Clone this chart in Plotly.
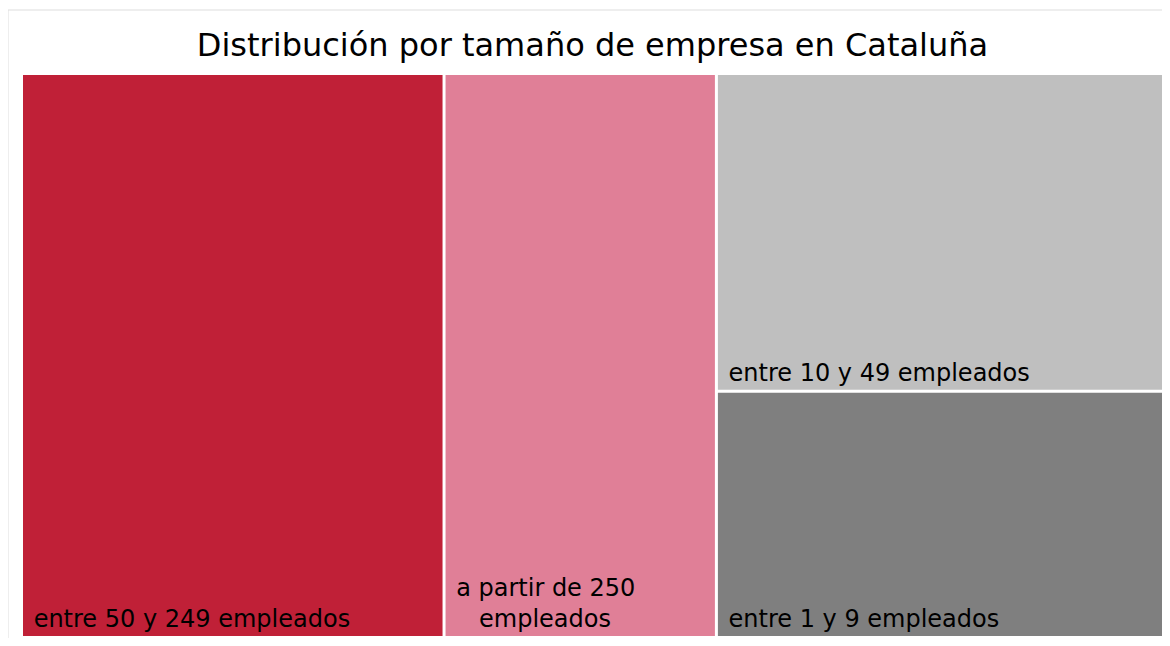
"""Treemap: distribución por tamaño de empresa en Cataluña."""
import plotly.graph_objects as go

labels = ["entre 50 y 249 empleados", "a partir de 250 empleados",
          "entre 10 y 49 empleados", "entre 1 y 9 empleados"]
parents = ["", "", "", ""]
values = [37.0, 23.85, 22.05, 17.1]
colors = ["#C02037", "#E07F97", "#BFBFBF", "#7F7F7F"]

NB = "\u00a0"
# tile texts: a little inset from the left edge, two-line label centred
texts = [NB + labels[0],
         NB + "a partir de 250<br>" + NB * 4 + "empleados",
         NB + labels[2],
         NB + labels[3]]

W, H = 1154, 630
ML, MR, MT, MB = 15, 0, 67, 2

fig = go.Figure(go.Treemap(
    labels=labels, parents=parents, values=values, text=texts,
    marker=dict(colors=colors, line=dict(width=0),
                pad=dict(t=0, l=0, r=0, b=0)),
    tiling=dict(packing="binary", pad=3),
    textposition="bottom left", texttemplate="%{text}",
    textfont=dict(family="DejaVu Sans", size=24, color="black"),
    pathbar=dict(visible=False), sort=True,
    hovertemplate="%{label}: %{value}<extra></extra>",
))

# light frame round the chart
pw, ph = W - ML - MR, H - MT - MB
fig.add_shape(type="rect", xref="paper", yref="paper", layer="below",
              x0=-ML / pw, x1=(W + 20 - ML) / pw,
              y0=-(MB + 20) / ph, y1=(ph + MT - 2) / ph,
              line=dict(color="#dddddd", width=1))

fig.update_layout(
    width=W, height=H, autosize=False,
    margin=dict(l=ML, r=MR, t=MT, b=MB),
    paper_bgcolor="white", plot_bgcolor="white",
    font=dict(family="DejaVu Sans", color="black"),
    title=dict(text="Distribución por tamaño de empresa en Cataluña",
               x=0.5, xref="paper", xanchor="center",
               y=1 - 37 / H, yref="container", yanchor="middle",
               font=dict(size=32, color="black")),
)

fig.write_html("out.html")
